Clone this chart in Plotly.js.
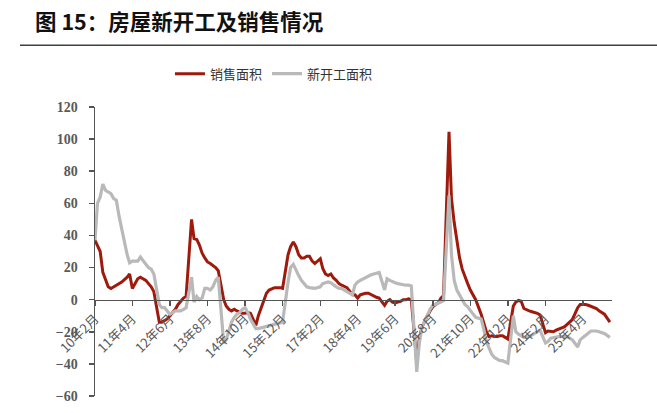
<!DOCTYPE html>
<html>
<head>
<meta charset="utf-8">
<script src="https://cdn.plot.ly/plotly-3.0.1.min.js"></script>
<style>
  html, body { margin: 0; padding: 0; background: #fff; }
  #chart { width: 657px; height: 413px; }
</style>
</head>
<body>
<div id="chart"></div>
<script>
// 房屋新开工及销售情况 (累计同比, %)

// monthly, 2010-02 .. 2026-02 ; January has no figure (Jan-Feb combined)
var salesArea = [
  37, 34, 30, 17, 12, 8, 7, 8, 9, 10, 11,                       // 2010 Feb-Dec
  null, 14, 16, 7, 10, 13, 14, 13, 12, 10, 8, 5,                // 2011
  null, -14, -14, -13, -12, -10, -8, -6, -3, -1, 1, 2,          // 2012
  null, 50, 38, 37.5, 34, 29, 26, 23.5, 22.5, 21.5, 20, 18,     // 2013
  null, 0, -4, -6, -7, -6, -7, -8, -8.5, -8.5, -8, -8.5,        // 2014
  null, -16, -10, -5, -1, 4, 6, 7, 7.5, 7.5, 7.5, 7,            // 2015
  null, 28, 33, 36, 33, 28, 26, 26, 27, 27, 24, 22.5,           // 2016
  null, 25.5, 19.5, 16, 15, 16, 13.5, 12, 10, 9, 8, 7.5,        // 2017
  null, 3, 3, 1, 3, 3.5, 4, 4, 3, 2, 1.5, 1,                    // 2018
  null, -3.5, -1, 0, -1.5, -2, -1.5, -1, 0, 0, 0.5, 0,          // 2019
  null, -39, -24, -17, -13, -10, -7, -4.5, -3, -2, 1, 2.6,      // 2020
  null, 104.5, 63, 48, 36, 26, 19, 14, 10, 6, 3, 0,             // 2021
  null, -9, -14, -20, -23, -22.5, -23, -23, -22.5, -22.5, -23.5, -24.5, // 2022
  null, -4, -1.5, -0.5, -1, -5.5, -6.5, -7, -7.5, -8, -8.5, -9.5,       // 2023
  null, -20.5, -19.5, -20, -20, -19, -18.5, -18, -17, -15.5, -14, -12.5, // 2024
  null, -5, -3, -3, -3, -3.5, -4, -4.5, -5.5, -7, -8, -9,       // 2025
  null, -14                                                     // 2026
];

var newStartArea = [
  37, 60, 64, 72, 68, 67, 66, 63, 62, 52, 44,                   // 2010 Feb-Dec
  null, 28, 23, 24, 24, 24, 26.5, 24, 22, 20, 19, 16,           // 2011
  null, -3, -5, -5, -7, -9, -8, -7, -7, -7, -6, -5,             // 2012
  null, 14, -1.5, 2, 0, 1, 7, 7, 6, 8, 12, 14,                  // 2013
  null, -27, -25, -20, -14, -11, -9, -8, -6, -5, -8, -12,       // 2014
  null, -18, -18, -17.5, -17, -16.5, -16, -15.5, -15, -14.5, -14, -14, // 2015
  null, 11, 20, 22, 18, 15, 12, 10, 8, 7.5, 7, 7,               // 2016
  null, 8, 10, 10.5, 11, 10.5, 9, 8, 7, 7, 6, 5,                // 2017
  null, 3, 9, 11, 12, 13, 14, 15, 15.5, 16, 16.5, 17,           // 2018
  null, 6, 13, 12, 11, 10.5, 10, 9.5, 9, 9, 9, 8.5,             // 2019
  null, -45, -27, -17, -13, -9, -6, -3.5, -3, -2.5, -1.5, -0.5, // 2020
  null, 65, 28, 12, 6, 3, 0, -3, -4.5, -7, -9, -11,             // 2021
  null, -12, -18, -26, -30, -34, -36, -37, -38, -38, -39, -39.5, // 2022
  null, -10, -20, -21.5, -22.5, -23.5, -23.5, -23, -22, -21, -20, -19, // 2023
  null, -27, -26, -24, -23.5, -23.5, -23, -23, -23, -23, -24, -25,     // 2024
  null, -29.5, -25, -23.5, -22, -20.5, -19.5, -19.5, -19.5, -20, -20.5, -21, // 2025
  null, -23.5                                                   // 2026
];

var tickDates = ["2010-02-01", "2011-04-01", "2012-06-01", "2013-08-01", "2014-10-01",
  "2015-12-01", "2017-02-01", "2018-04-01", "2019-06-01", "2020-08-01",
  "2021-10-01", "2022-12-01", "2024-02-01", "2025-04-01"];
var tickLabels = ["10年2月", "11年4月", "12年6月", "13年8月", "14年10月",
  "15年12月", "17年2月", "18年4月", "19年6月", "20年8月",
  "21年10月", "22年12月", "24年2月", "25年4月"];

// month axis from 2010-02
function monthList(y, m, n) {
  var out = [];
  for (var i = 0; i < n; i++) {
    out.push(y + "-" + (m < 10 ? "0" + m : m) + "-01");
    m++;
    if (m > 12) { m = 1; y++; }
  }
  return out;
}
var months = monthList(2010, 2, salesArea.length);

var axisColor = "#555555";
var cjk = "'Noto Sans CJK SC', sans-serif";

var salesTrace = {
  name: "销售面积",
  type: "scatter",
  mode: "lines",
  x: months,
  y: salesArea,
  connectgaps: true,
  line: {color: "#9E1A0C", width: 3},
};

var startTrace = {
  name: "新开工面积",
  type: "scatter",
  mode: "lines",
  x: months,
  y: newStartArea,
  connectgaps: true,
  line: {color: "#B9B9B9", width: 3.2},
};

var layout = {
  width: 657,
  height: 413,
  margin: {l: 95, r: 45, t: 107, b: 17},
  paper_bgcolor: "#fff",
  plot_bgcolor: "#fff",
  showlegend: true,
  title: {
    text: "图 15：房屋新开工及销售情况",
    xref: "container", yref: "container",
    x: 35 / 657, xanchor: "left",
    y: 1 - 22 / 413, yanchor: "middle",
    font: {family: cjk, size: 21.5, color: "#111", weight: "bold"},
  },
  legend: {
    orientation: "h",
    x: 0.145, xanchor: "left",
    y: 1.115, yanchor: "middle",
    font: {family: cjk, size: 13, color: "#333"},
    bgcolor: "rgba(0,0,0,0)",
  },
  xaxis: {
    type: "date",
    range: ["2010-02-01", "2026-02-25"],
    anchor: "free",
    position: 1 / 3,
    showgrid: false,
    zeroline: false,
    showline: true,
    linecolor: axisColor,
    linewidth: 1.5,
    ticks: "outside",
    ticklen: 5,
    tickcolor: axisColor,
    tickwidth: 1.5,
    tickmode: "array",
    tickvals: tickDates,
    ticktext: tickLabels,
    tickangle: -45,
    tickfont: {family: cjk, size: 13, color: "#595959"},
    automargin: false,
  },
  yaxis: {
    range: [-60, 120],
    showgrid: false,
    zeroline: false,
    showline: true,
    linecolor: axisColor,
    linewidth: 1.5,
    ticks: "outside",
    ticklen: 5,
    tickcolor: axisColor,
    tickwidth: 1.5,
    tickmode: "array",
    tickvals: [-60, -40, -20, 0, 20, 40, 60, 80, 100, 120],
    ticklabelstandoff: 8,
    tickfont: {family: "'Liberation Serif', serif", size: 14, color: "#595959", weight: "bold"},
    automargin: false,
  },
  shapes: [{
    type: "line", xref: "paper", yref: "paper",
    x0: -75 / 517, x1: 562 / 517,
    y0: 350.3 / 288.7, y1: 350.3 / 288.7,
    line: {color: "#404040", width: 1.5},
  }],
};

Plotly.newPlot("chart", [salesTrace, startTrace], layout, {displayModeBar: false, staticPlot: true});
</script>
</body>
</html>
